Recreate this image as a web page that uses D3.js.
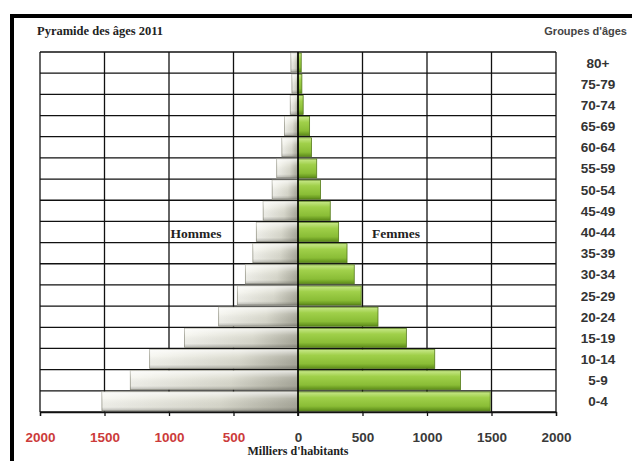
<!DOCTYPE html>
<html>
<head>
<meta charset="utf-8">
<script src="https://cdn.jsdelivr.net/npm/d3@7"></script>
<style>
  body { margin: 0; background: #fff; }
  svg { display: block; }
</style>
</head>
<body>
<svg id="chart"></svg>
<script>
// age groups, bottom to top
var ages = ["0-4", "5-9", "10-14", "15-19", "20-24", "25-29", "30-34", "35-39",
    "40-44", "45-49", "50-54", "55-59", "60-64", "65-69", "70-74", "75-79", "80+"];
// thousands of inhabitants
var hommes = [1520, 1300, 1150, 880, 615, 470, 408, 350, 323, 270, 200, 165, 125, 105, 60, 47, 55];
var femmes = [1490, 1260, 1060, 840, 620, 490, 436, 380, 315, 250, 175, 145, 105, 90, 40, 30, 25];
var ticks = [-2000, -1500, -1000, -500, 0, 500, 1000, 1500, 2000];

var width = 632, height = 461;
// note: "top" is a reserved window property, so use plot* names
var plotL = 40, plotR = 556, plotT = 52, plotB = 412;

var svg = d3.select("#chart")
    .attr("width", width)
    .attr("height", height);

var defs = svg.append("defs");
var gm = defs.append("linearGradient").attr("id", "gm")
    .attr("x1", "0").attr("y1", "0").attr("x2", "1").attr("y2", "0");
gm.append("stop").attr("offset", "0%").attr("stop-color", "#f6f6f0");
gm.append("stop").attr("offset", "60%").attr("stop-color", "#dcdcd0");
gm.append("stop").attr("offset", "100%").attr("stop-color", "#a9a99b");

var gf = defs.append("linearGradient").attr("id", "gf")
    .attr("x1", "0").attr("y1", "0").attr("x2", "0").attr("y2", "1");
gf.append("stop").attr("offset", "0%").attr("stop-color", "#c8e88a");
gf.append("stop").attr("offset", "30%").attr("stop-color", "#a0d04a");
gf.append("stop").attr("offset", "75%").attr("stop-color", "#8abd36");
gf.append("stop").attr("offset", "100%").attr("stop-color", "#5b8a18");

var shade = defs.append("linearGradient").attr("id", "shade")
    .attr("x1", "0").attr("y1", "0").attr("x2", "0").attr("y2", "1");
shade.append("stop").attr("offset", "0%").attr("stop-color", "#fff").attr("stop-opacity", 0.7);
shade.append("stop").attr("offset", "35%").attr("stop-color", "#fff").attr("stop-opacity", 0.1);
shade.append("stop").attr("offset", "80%").attr("stop-color", "#000").attr("stop-opacity", 0.04);
shade.append("stop").attr("offset", "100%").attr("stop-color", "#000").attr("stop-opacity", 0.25);

// frame
svg.append("path")
    .attr("d", "M12,461 V16 H632")
    .attr("fill", "none")
    .attr("stroke", "#000")
    .attr("stroke-width", 4);

var x = d3.scaleLinear().domain([-2000, 2000]).range([plotL, plotR]);
var y = d3.scaleBand().domain(ages.slice().reverse()).range([plotT, plotB])
    .paddingInner(0.1).paddingOuter(0.05);
var rowH = (plotB - plotT) / ages.length;

// grid
var grid = svg.append("g");
grid.selectAll("line.h")
    .data(d3.range(ages.length + 1))
    .enter().append("line")
    .attr("class", "h")
    .attr("x1", plotL).attr("x2", plotR)
    .attr("y1", function (d) { return plotT + d * rowH; })
    .attr("y2", function (d) { return plotT + d * rowH; })
    .attr("stroke", "#111").attr("stroke-width", 1.3);
grid.selectAll("line.v")
    .data(ticks)
    .enter().append("line")
    .attr("class", "v")
    .attr("x1", function (d) { return x(d); })
    .attr("x2", function (d) { return x(d); })
    .attr("y1", plotT).attr("y2", plotB)
    .attr("stroke", "#111").attr("stroke-width", 1.3);

svg.append("text").attr("x", 196).attr("y", 238)
    .attr("text-anchor", "middle")
    .attr("font-family", "Liberation Serif").attr("font-weight", "bold")
    .attr("font-size", 13.5).attr("fill", "#222").text("Hommes");
svg.append("text").attr("x", 396).attr("y", 238)
    .attr("text-anchor", "middle")
    .attr("font-family", "Liberation Serif").attr("font-weight", "bold")
    .attr("font-size", 13.5).attr("fill", "#222").text("Femmes");

// bars
var men = svg.append("g");
men.selectAll("rect.b")
    .data(ages)
    .enter().append("rect")
    .attr("class", "b")
    .attr("x", function (d, i) { return x(-hommes[i]); })
    .attr("y", function (d) { return y(d); })
    .attr("width", function (d, i) { return x(0) - x(-hommes[i]); })
    .attr("height", y.bandwidth())
    .attr("fill", "url(#gm)")
    .attr("stroke", "#9a9a8c").attr("stroke-width", 0.8);
men.selectAll("rect.s")
    .data(ages)
    .enter().append("rect")
    .attr("class", "s")
    .attr("x", function (d, i) { return x(-hommes[i]); })
    .attr("y", function (d) { return y(d); })
    .attr("width", function (d, i) { return x(0) - x(-hommes[i]); })
    .attr("height", y.bandwidth())
    .attr("fill", "url(#shade)");

var women = svg.append("g");
women.selectAll("rect")
    .data(ages)
    .enter().append("rect")
    .attr("x", x(0))
    .attr("y", function (d) { return y(d); })
    .attr("width", function (d, i) { return x(femmes[i]) - x(0); })
    .attr("height", y.bandwidth())
    .attr("fill", "url(#gf)")
    .attr("stroke", "#557a1c").attr("stroke-width", 0.8);

// zero line
svg.append("line")
    .attr("x1", x(0)).attr("x2", x(0))
    .attr("y1", plotT).attr("y2", plotB + 4)
    .attr("stroke", "#000").attr("stroke-width", 1.6);

// x axis
var xAxis = d3.axisBottom(x)
    .tickValues(ticks)
    .tickSize(4)
    .tickFormat(function (d) { return Math.abs(d); });
var ax = svg.append("g")
    .attr("transform", "translate(0," + plotB + ")")
    .call(xAxis);
ax.select(".domain").attr("stroke", "#111").attr("stroke-width", 1.3);
ax.selectAll(".tick line").attr("stroke", "#111").attr("stroke-width", 1.3);
ax.selectAll(".tick text")
    .attr("y", 20)
    .attr("font-family", "Liberation Sans")
    .attr("font-weight", "bold")
    .attr("font-size", 13.5)
    .attr("fill", function (d) { return d < 0 ? "#cc3b3b" : "#3a3a3a"; });

svg.append("text").attr("x", x(0)).attr("y", 455)
    .attr("text-anchor", "middle")
    .attr("font-family", "Liberation Serif").attr("font-weight", "bold")
    .attr("font-size", 12).attr("fill", "#222").text("Milliers d'habitants");

// age labels
svg.append("g").selectAll("text")
    .data(ages)
    .enter().append("text")
    .attr("x", 598)
    .attr("y", function (d) { return y(d) + y.bandwidth() / 2 + 5; })
    .attr("text-anchor", "middle")
    .attr("font-family", "Liberation Sans")
    .attr("font-weight", "bold")
    .attr("font-size", 13.5)
    .attr("fill", "#333")
    .text(function (d) { return d; });

// titles
svg.append("text").attr("x", 37).attr("y", 35)
    .attr("font-family", "Liberation Serif").attr("font-weight", "bold")
    .attr("font-size", 12.5).attr("fill", "#222").text("Pyramide des âges 2011");
svg.append("text").attr("x", 627).attr("y", 35)
    .attr("text-anchor", "end")
    .attr("font-family", "Liberation Sans").attr("font-weight", "bold")
    .attr("font-size", 11).attr("fill", "#444").text("Groupes d'âges");
</script>
</body>
</html>
